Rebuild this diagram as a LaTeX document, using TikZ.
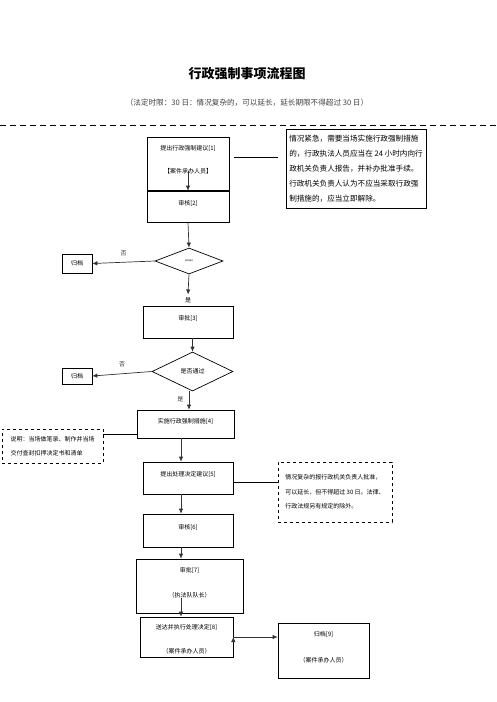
\documentclass[tikz,border=0pt]{standalone}
\usepackage{fontspec}
\setmainfont{Noto Sans CJK SC}
\usepackage{tikz}
\usetikzlibrary{shapes.geometric,arrows,arrows.meta,positioning}

\newcommand{\boxfont}{\fontsize{6}{8}\selectfont}

\begin{document}
\begin{tikzpicture}[x=1pt,y=-1pt,>={Latex[length=5pt,width=4.5pt]},line width=0.7pt,
    box/.style={draw,rectangle,minimum width=90pt,minimum height=32pt,font=\boxfont,text depth=8pt,inner sep=1pt},
    plain/.style={draw,rectangle,inner sep=0pt},
    txt/.style={font=\boxfont,inner sep=0pt},
    decide/.style={draw,diamond,inner sep=0pt,font=\boxfont},
    note/.style={draw,dashed,rectangle,inner sep=0pt},
    conn/.style={draw,black!80}]
    \useasboundingbox (0,0) rectangle (496,702);

    % title
    \node[font=\fontsize{13}{15}\selectfont\bfseries] (title) at (247,74) {行政强制事项流程图};
    \node[font=\fontsize{7.6}{9}\selectfont,text=black!75] (sub) at (247,103) {（法定时限：30 日：情况复杂的，可以延长，延长期限不得超过 30 日）};
    \coordinate (dl) at (0,125);
    \coordinate (dr) at (496,125);
    \draw[dashed,dash pattern=on 6pt off 4pt] (dl) -- (dr);

    % steps 1 and 2
    \node[plain,minimum width=82pt,minimum height=54pt] (b1) at (188,164) {};
    \node[txt] (b1a) at (188,148) {提出行政强制建议[1]};
    \node[txt] (b1b) at (188,171) {【案件承办人员】};
    \node[box,minimum width=82pt,minimum height=31pt] (b2) at (188,206.5) {审核[2]};
    \draw[line width=1.6pt] (b2.north west) -- (b2.north east);
    \node[plain,minimum width=140pt,minimum height=79pt,font=\fontsize{7.6}{15}\selectfont,align=left] (n1) at (356,168.5)
      {情况紧急，需要当场实施行政强制措施\\的，行政执法人员应当在 24 小时内向行\\政机关负责人报告，并补办批准手续。\\行政机关负责人认为不应当采取行政强\\制措施的，应当立即解除。};
    \draw[shorten <=5pt,shorten >=8pt] ([yshift=7pt]b1.east) -- ([yshift=7pt]b1.east -| n1.west);

    % first check
    \node[decide,minimum width=68pt,minimum height=26pt,font=\fontsize{2}{2}\selectfont] (d1) at (189,261) {是否通过};
    \node[plain,minimum width=30pt,minimum height=19pt,font=\boxfont] (a1) at (77,263.5) {归档};
    \node[txt] (yes1) at (188,300.5) {是};
    \node[box,minimum width=90pt,minimum height=32pt] (b3) at (188,322) {审批[3]};

    % second check
    \node[decide,minimum width=81pt,minimum height=39pt] (d2) at (192.5,371.5) {是否通过};
    \node[plain,minimum width=30pt,minimum height=16pt,font=\boxfont] (a2) at (77,376) {归档};
    \node[box,minimum width=97pt,minimum height=28pt,text depth=7pt] (b4) at (185.5,424) {实施行政强制措施[4]};
    \node[note,minimum width=101pt,minimum height=34pt,font=\fontsize{6}{14}\selectfont,align=left] (ln) at (52.5,446)
      {说明：当场做笔录、制作并当场\\交付查封扣押决定书和清单};
    \draw ([yshift=-6pt]ln.north east) -- ([yshift=-6pt]ln.north east -| b4.west);

    % steps 5 to 9
    \coordinate (ax) at (181,0);
    \node[box] (b5) at (188,478) {提出处理决定建议[5]};
    \node[note,minimum width=114pt,minimum height=60pt,font=\fontsize{6}{14.5}\selectfont,align=left] (n2) at (335,492)
      {情况复杂的报行政机关负责人批准，\\可以延长，但不得超过 30 日。法律、\\行政法规另有规定的除外。};
    \draw ([yshift=-4pt]b5.east) -- ([yshift=-4pt]b5.east -| n2.west);
    \node[box,minimum height=33pt] (b6) at (188,530.5) {审核[6]};
    \node[plain,minimum width=107pt,minimum height=54pt] (b7) at (189.5,586) {};
    \node[txt] (b7a) at (189.5,570) {审批[7]};
    \node[txt] (b7b) at (189.5,595) {（执法队队长）};
    \node[plain,minimum width=93pt,minimum height=40pt] (b8) at (186.5,637) {};
    \node[txt] (b8a) at (186.5,627) {送达并执行处理决定[8]};
    \node[txt] (b8b) at (186.5,651) {（案件承办人员）};
    \node[plain,minimum width=91pt,minimum height=55pt] (b9) at (323.5,650.5) {};
    \node[txt] (b9a) at (323.5,634) {归档[9]};
    \node[txt] (b9b) at (323.5,660) {（案件承办人员）};

    % connectors
    \path[->,conn]
    (b1b.center) edge (b2.north)
    (b2.south) edge (d1.north)
    (d1.west) edge node[above=3pt,font=\boxfont] {否} (a1.east)
    (d1.south) edge ([yshift=3pt]yes1.north)
    (d2.north |- b3.south) edge (d2.north)
    (d2.west) edge node[above=3pt,font=\boxfont] {否} (a2.east)
    ([xshift=-3.5pt]d2.south) edge node[pos=0.45,left=2pt,font=\boxfont] {是} ([xshift=-3.5pt]d2.south |- b4.north)
    (b4.south -| ax) edge (b5.north -| ax)
    (b5.south -| ax) edge (b6.north -| ax)
    (b6.south -| ax) edge (b7.north -| ax)
    (b7b.south -| ax) edge (b8.north -| ax)
    (b8.east) edge (b8.east -| b9.west)
;
\end{tikzpicture}
\end{document}
